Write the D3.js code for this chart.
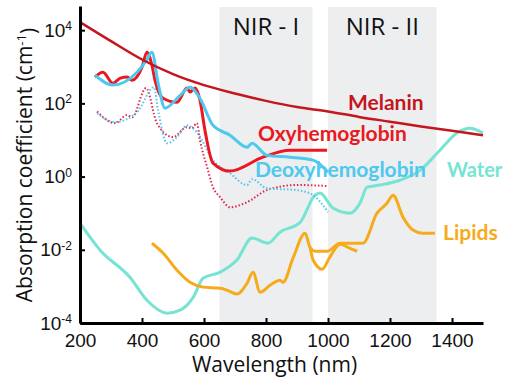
<!DOCTYPE html>
<html>
<head>
<meta charset="utf-8">
<script src="https://cdn.jsdelivr.net/npm/d3@7"></script>
<style>
    body { margin: 0; background: #fff; }
    svg { display: block; }
</style>
</head>
<body>
<div id="chart"></div>
<script>
// wavelength (nm) / absorption coefficient (cm-1)
let melaninWl = [200, 300, 400, 500, 600, 700, 800, 900, 1000, 1100, 1200, 1300, 1400, 1500];
let melaninVal = [16600, 5010, 1580, 631, 316, 186, 117, 79.4, 60.3, 42.7, 31.6, 23.4, 17.8, 13.5];

let oxyWl = [248, 274, 306, 330, 352, 368, 400, 416, 432, 442, 468, 513, 545, 555, 571, 587, 603, 629, 684, 790, 877, 997];
let oxyVal = [525, 708, 355, 490, 525, 427, 977, 2510, 1100, 427, 138, 107, 263, 204, 263, 123, 18.6, 2.34, 1.41, 3.39, 5.25, 5.25];

let deoxyWl = [248, 306, 384, 415, 432, 452, 474, 523, 555, 587, 629, 684, 739, 755, 803, 877, 952, 1000];
let deoxyVal = [589, 316, 708, 1510, 2510, 355, 74.1, 166, 275, 138, 25.1, 13.5, 6.31, 8.13, 3.80, 3.39, 2.82, 1.32];

let oxyTissueWl = [255, 313, 352, 368, 413, 448, 500, 545, 561, 577, 587, 610, 629, 652, 684, 739, 803, 900, 997];
let oxyTissueVal = [60.3, 28.8, 47.9, 41.7, 263, 28.8, 12.0, 22.4, 20.9, 28.8, 9.77, 1.82, 0.513, 0.275, 0.145, 0.200, 0.427, 0.589, 0.550];

let deoxyTissueWl = [255, 313, 384, 439, 452, 481, 513, 545, 577, 629, 684, 739, 755, 803, 900, 952, 1000];
let deoxyTissueVal = [53.7, 30.9, 57.5, 275, 64.6, 8.13, 12.0, 25.1, 16.2, 2.82, 1.23, 0.589, 0.851, 0.479, 0.427, 0.309, 0.107];

let waterWl = [200, 265, 361, 416, 481, 523, 565, 597, 652, 706, 755, 806, 845, 910, 958, 974, 1016, 1071, 1103, 1126, 1168, 1232, 1297, 1361, 1416, 1458, 1500];
let waterVal = [0.0537, 0.00977, 0.00178, 0.000417, 0.000186, 0.000224, 0.000501, 0.00166, 0.00245, 0.00525, 0.0209, 0.0151, 0.0302, 0.0562, 0.309, 0.355, 0.138, 0.100, 0.186, 0.513, 0.589, 0.794, 1.48, 5.25, 15.5, 20.9, 15.5];

let lipidsWl = [432, 468, 513, 555, 597, 652, 674, 706, 739, 758, 781, 813, 845, 855, 887, 926, 942, 958, 997, 1039, 1113, 1158, 1190, 1210, 1242, 1274, 1306, 1345];
let lipidsVal = [0.0151, 0.00813, 0.00275, 0.00129, 0.000955, 0.000891, 0.000794, 0.000617, 0.00123, 0.00245, 0.000692, 0.00107, 0.00148, 0.00129, 0.00589, 0.0282, 0.0117, 0.00912, 0.00912, 0.0151, 0.0151, 0.100, 0.186, 0.309, 0.0776, 0.0347, 0.0282, 0.0282];

let lipids2Wl = [942, 952, 981, 1006, 1039, 1071, 1094];
let lipids2Val = [0.0117, 0.00525, 0.00295, 0.00631, 0.0141, 0.0110, 0.00912];

let windowNames = ["NIR - I", "NIR - II"];
let windowStart = [650, 1000];
let windowEnd = [950, 1350];

let xTicks = [200, 400, 600, 800, 1000, 1200, 1400];
let yTicks = [1e-4, 1e-2, 1, 1e2, 1e4];
let yTickExp = ["-4", "-2", "0", "2", "4"];

function drawChart() {
    let width = 505,
        height = 386;

    let svg = d3.select("#chart").append("svg")
        .attr("width", width)
        .attr("height", height);

    let x = d3.scaleLinear().domain([200, 1500]).range([80, 483]);
    let y = d3.scaleLog().domain([1e-4, Math.pow(10, 4.66)]).range([323, 6]);

    // shaded imaging windows
    svg.append("g")
        .selectAll("rect")
        .data(windowNames)
        .enter().append("rect")
        .attr("x", (d, i) => x(windowStart[i]))
        .attr("width", (d, i) => x(windowEnd[i]) - x(windowStart[i]))
        .attr("y", 7)
        .attr("height", y(1e-4) - 7)
        .style("fill", "#eceeef");

    svg.append("g")
        .selectAll("text")
        .data(windowNames)
        .enter().append("text")
        .attr("x", (d, i) => x((windowStart[i] + windowEnd[i]) / 2))
        .attr("y", 35)
        .attr("text-anchor", "middle")
        .style("font-family", "'Open Sans', sans-serif")
        .style("font-size", "24px")
        .style("fill", "#111")
        .text(d => d);

    let line = d3.line()
        .x(d => x(d[0]))
        .y(d => y(d[1]))
        .curve(d3.curveMonotoneX);

    let series = [
        { wl: waterWl, val: waterVal, color: "#76e4d2", w: 3, dash: null },
        { wl: lipidsWl, val: lipidsVal, color: "#f6ab1c", w: 3, dash: null },
        { wl: lipids2Wl, val: lipids2Val, color: "#f6ab1c", w: 3, dash: null },
        { wl: oxyTissueWl, val: oxyTissueVal, color: "#e2264f", w: 2, dash: "1.5,2" },
        { wl: deoxyTissueWl, val: deoxyTissueVal, color: "#52c6ec", w: 2, dash: "1.5,2" },
        { wl: oxyWl, val: oxyVal, color: "#ea1820", w: 3, dash: null },
        { wl: deoxyWl, val: deoxyVal, color: "#4fc8ef", w: 3, dash: null },
        { wl: melaninWl, val: melaninVal, color: "#c4161c", w: 2.5, dash: null }
    ];

    svg.append("g")
        .selectAll("path")
        .data(series)
        .enter().append("path")
        .attr("d", s => line(s.wl.map((w, i) => [w, s.val[i]])))
        .style("fill", "none")
        .style("stroke", s => s.color)
        .style("stroke-width", s => s.w)
        .style("stroke-dasharray", s => s.dash)
        .style("stroke-linejoin", "round");

    // curve labels
    let labels = [
        { text: "Melanin", x: 348, y: 110, size: 21, color: "#c4161c" },
        { text: "Oxyhemoglobin", x: 258, y: 141, size: 21, color: "#ea1820" },
        { text: "Deoxyhemoglobin", x: 255, y: 177, size: 21, color: "#4fc8ef" },
        { text: "Water", x: 447, y: 177, size: 20, color: "#76e4d2" },
        { text: "Lipids", x: 443, y: 240, size: 21, color: "#f6ab1c" }
    ];

    svg.append("g")
        .selectAll("text")
        .data(labels)
        .enter().append("text")
        .attr("x", d => d.x)
        .attr("y", d => d.y)
        .style("font-family", "Lato, sans-serif")
        .style("font-weight", "bold")
        .style("font-size", d => d.size + "px")
        .style("fill", d => d.color)
        .text(d => d.text);

    // axes
    let xAxis = svg.append("g")
        .attr("transform", "translate(0," + y(1e-4) + ")")
        .call(d3.axisBottom(x).tickValues(xTicks).tickFormat(d3.format("d"))
            .tickSizeInner(-5).tickSizeOuter(0).tickPadding(10.5));

    let yAxis = svg.append("g")
        .attr("transform", "translate(" + x(200) + ",0)")
        .call(d3.axisLeft(y).tickValues(yTicks).tickSizeInner(-5).tickSizeOuter(0).tickPadding(8).tickFormat(""));

    [xAxis, yAxis].forEach(a => {
        a.attr("font-family", null);
        a.select(".domain").style("stroke", "#000").style("stroke-width", 3);
        a.selectAll(".tick line").style("stroke", "#000").style("stroke-width", 2);
        a.selectAll("text")
            .style("font-family", "'Liberation Sans', Arial, sans-serif")
            .style("font-size", "19px")
            .style("fill", "#111");
    });

    // 10^n labels
    yAxis.selectAll(".tick text").each(function (d, i) {
        let t = d3.select(this);
        t.append("tspan").text("10");
        t.append("tspan")
            .attr("dy", "-0.55em")
            .style("font-size", "12px")
            .text(yTickExp[i]);
    });

    svg.append("text")
        .attr("x", x(200) + (483 - 80) / 2 - 7)
        .attr("y", 372)
        .attr("text-anchor", "middle")
        .style("font-family", "'Open Sans', sans-serif")
        .style("font-size", "21px")
        .style("fill", "#111")
        .text("Wavelength (nm)");

    let yTitle = svg.append("text")
        .attr("transform", "translate(32,165) rotate(-90)")
        .attr("text-anchor", "middle")
        .style("font-family", "'Open Sans', sans-serif")
        .style("font-size", "21px")
        .style("fill", "#111");
    yTitle.append("tspan").text("Absorption coefficient (cm");
    yTitle.append("tspan").attr("dy", "-0.5em").style("font-size", "13px").text("-1");
    yTitle.append("tspan").attr("dy", "0.5em").text(")");
}

drawChart();
</script>
</body>
</html>
